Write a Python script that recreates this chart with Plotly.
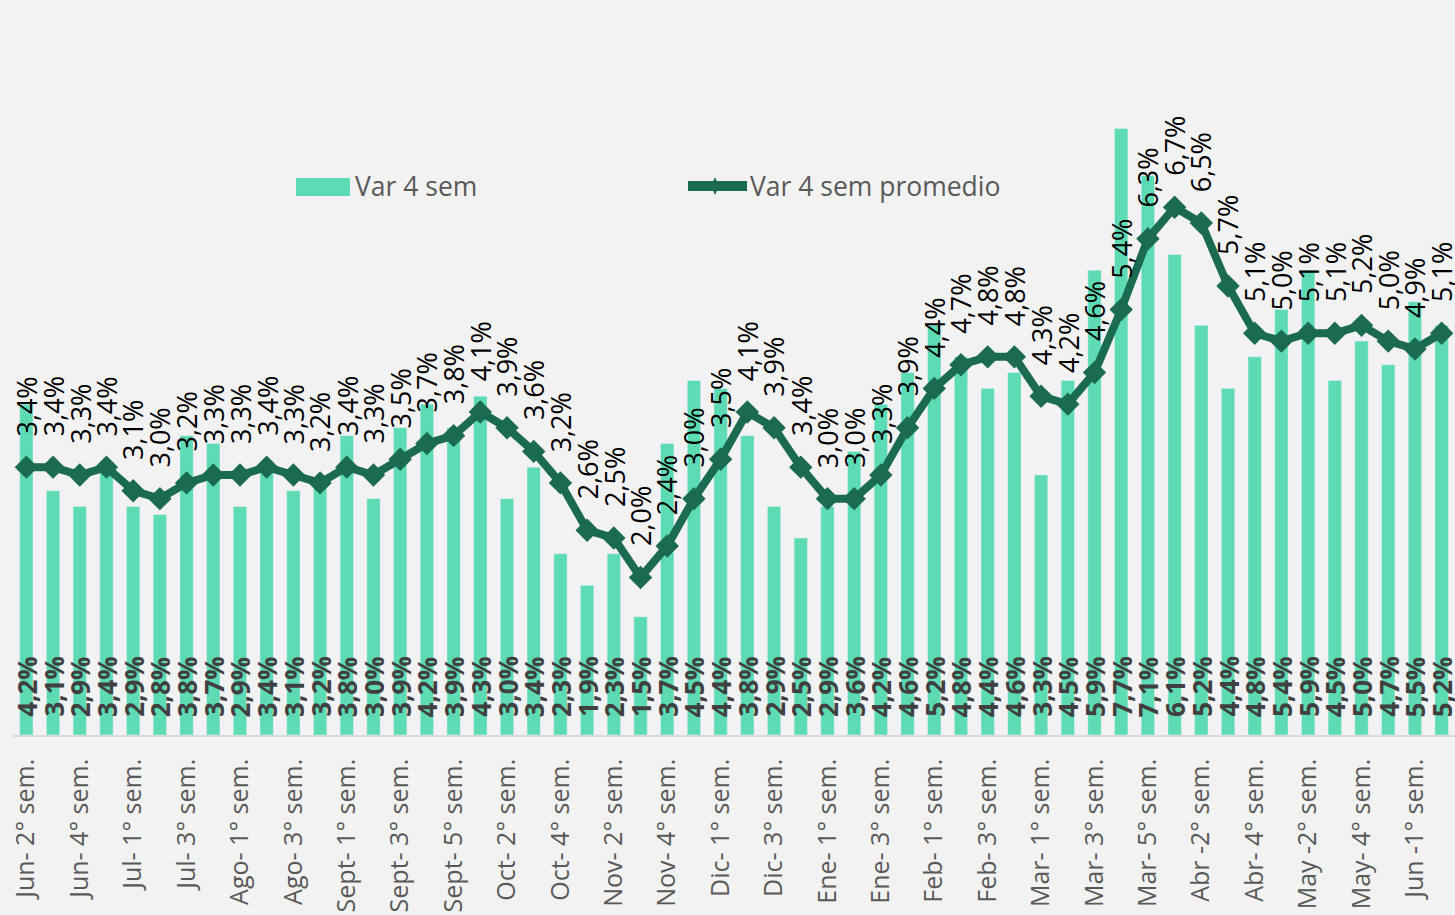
import plotly.graph_objects as go

categories = [
    "Jun- 2° sem.", "Jun- 3° sem.", "Jun- 4° sem.", "Jun- 5° sem.",
    "Jul- 1° sem.", "Jul- 2° sem.", "Jul- 3° sem.", "Jul- 4° sem.",
    "Ago- 1° sem.", "Ago- 2° sem.", "Ago- 3° sem.", "Ago- 4° sem.",
    "Sept- 1° sem.", "Sept- 2° sem.", "Sept- 3° sem.", "Sept- 4° sem.", "Sept- 5° sem.",
    "Oct- 1° sem.", "Oct- 2° sem.", "Oct- 3° sem.", "Oct- 4° sem.",
    "Nov- 1° sem.", "Nov- 2° sem.", "Nov- 3° sem.", "Nov- 4° sem.", "Nov- 5° sem.",
    "Dic- 1° sem.", "Dic- 2° sem.", "Dic- 3° sem.", "Dic- 4° sem.",
    "Ene- 1° sem.", "Ene- 2° sem.", "Ene- 3° sem.", "Ene- 4° sem.",
    "Feb- 1° sem.", "Feb- 2° sem.", "Feb- 3° sem.", "Feb- 4° sem.",
    "Mar- 1° sem.", "Mar- 2° sem.", "Mar- 3° sem.", "Mar- 4° sem.", "Mar- 5° sem.",
    "Abr -1° sem.", "Abr -2° sem.", "Abr- 3° sem.", "Abr- 4° sem.",
    "May -1° sem.", "May -2° sem.", "May- 3° sem.", "May- 4° sem.", "May- 5° sem.",
    "Jun -1° sem.", "Jun -2° sem.",
]

var_4_sem = [4.2, 3.1, 2.9, 3.4, 2.9, 2.8, 3.8, 3.7, 2.9, 3.4, 3.1, 3.2, 3.8, 3.0,
             3.9, 4.2, 3.9, 4.3, 3.0, 3.4, 2.3, 1.9, 2.3, 1.5, 3.7, 4.5, 4.4, 3.8,
             2.9, 2.5, 2.9, 3.6, 4.2, 4.6, 5.2, 4.8, 4.4, 4.6, 3.3, 4.5, 5.9, 7.7,
             7.1, 6.1, 5.2, 4.4, 4.8, 5.4, 5.9, 4.5, 5.0, 4.7, 5.5, 5.2]

var_4_sem_promedio = [3.4, 3.4, 3.3, 3.4, 3.1, 3.0, 3.2, 3.3, 3.3, 3.4, 3.3, 3.2, 3.4,
                      3.3, 3.5, 3.7, 3.8, 4.1, 3.9, 3.6, 3.2, 2.6, 2.5, 2.0, 2.4, 3.0,
                      3.5, 4.1, 3.9, 3.4, 3.0, 3.0, 3.3, 3.9, 4.4, 4.7, 4.8, 4.8, 4.3,
                      4.2, 4.6, 5.4, 6.3, 6.7, 6.5, 5.7, 5.1, 5.0, 5.1, 5.1, 5.2, 5.0,
                      4.9, 5.1]

series_names = ["Var 4 sem", "Var 4 sem promedio"]

BAR_COLOR = "#5CDBB4"
LINE_COLOR = "#1A6B4F"
BG = "#F2F2F2"
FONT = "Open Sans"

x = list(range(len(categories)))


def pct(v):
    return f"{v:.1f}".replace(".", ",") + "%"


fig = go.Figure()
fig.add_trace(go.Bar(x=x, y=var_4_sem, name=series_names[0], marker_color=BAR_COLOR,
                     width=0.5, showlegend=False, hoverinfo="skip"))
fig.add_trace(go.Scatter(x=x, y=var_4_sem_promedio, name=series_names[1], mode="lines+markers",
                         line=dict(color=LINE_COLOR, width=8),
                         marker=dict(symbol="diamond", size=18, color=LINE_COLOR),
                         showlegend=False, hoverinfo="skip"))

annotations = []
for xi, v in zip(x, var_4_sem):
    annotations.append(dict(x=xi, y=0, xref="x", yref="y", text="<b>" + pct(v) + "</b>",
                            textangle=-90, showarrow=False, yanchor="bottom", xanchor="center",
                            yshift=16, font=dict(family=FONT, size=26, color="#404040")))
for xi, v in zip(x, var_4_sem_promedio):
    annotations.append(dict(x=xi, y=v, xref="x", yref="y", text=pct(v),
                            textangle=-90, showarrow=False, yanchor="bottom", xanchor="center",
                            yshift=29, font=dict(family=FONT, size=27, color="#000000")))

# legend (drawn at plot-relative pixel positions)
L, T, W, H = 13, 0, 1442, 735


def px(p):
    return (p - L) / W


def py(p):
    return (T + H - p) / H


shapes = [
    dict(type="rect", xref="paper", yref="paper", x0=px(296), x1=px(350), y0=py(196), y1=py(178),
         fillcolor=BAR_COLOR, line=dict(width=0)),
    dict(type="line", xref="paper", yref="paper", x0=px(688), x1=px(747), y0=py(186), y1=py(186),
         line=dict(color=LINE_COLOR, width=10)),
    dict(type="path", xref="paper", yref="paper",
         path=f"M {px(715)} {py(177)} L {px(719)} {py(186)} L {px(715)} {py(195)} L {px(711)} {py(186)} Z",
         fillcolor=LINE_COLOR, line=dict(width=0)),
]
annotations.append(dict(x=px(353), y=py(186), xref="paper", yref="paper", text=series_names[0],
                        showarrow=False, xanchor="left", yanchor="middle",
                        font=dict(family=FONT, size=26.5, color="#595959")))
annotations.append(dict(x=px(748), y=py(186), xref="paper", yref="paper", text=series_names[1],
                        showarrow=False, xanchor="left", yanchor="middle",
                        font=dict(family=FONT, size=26.5, color="#595959")))

fig.update_layout(
    width=1455, height=915,
    margin=dict(l=L, r=0, t=T, b=915 - H - T),
    paper_bgcolor=BG, plot_bgcolor=BG,
    font=dict(family=FONT),
    annotations=annotations, shapes=shapes,
    showlegend=False,
    xaxis=dict(range=[-0.5, len(categories) - 0.5], tickvals=x[::2], ticktext=categories[::2],
               tickangle=-90, tickfont=dict(family=FONT, size=25, color="#595959"),
               showline=True, linecolor="#D9D9D9", linewidth=1.5, showgrid=False, zeroline=False,
               ticks="", ticklabelstandoff=12),
    yaxis=dict(range=[0, 9.33], visible=False, showgrid=False, zeroline=False),
)

fig.write_html(
    "out.html",
    config={"displayModeBar": False},
    post_script="document.body.style.margin='0';document.body.style.background='#F2F2F2';",
)
